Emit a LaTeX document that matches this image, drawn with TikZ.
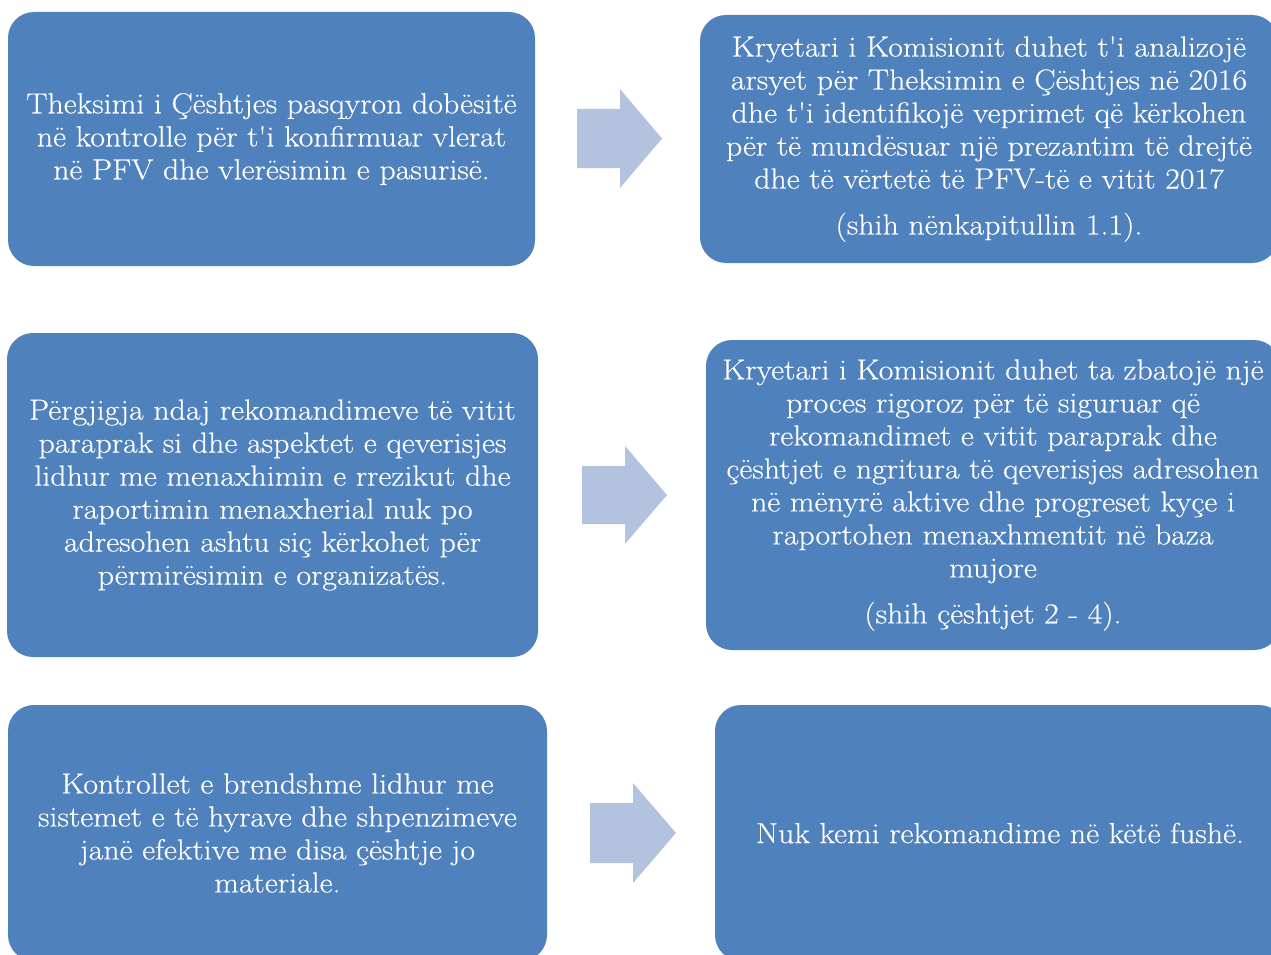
\documentclass[tikz,border=0pt]{standalone}
\usepackage{fontspec}
\setmainfont{Latin Modern Roman}[FakeStretch=1.1, FakeBold=0.4, Ligatures=TeXOff]
\definecolor{boxblue}{HTML}{4F81BD}
\definecolor{arrowblue}{HTML}{B3C3DF}
\tikzset{
  infobox/.style={fill=boxblue, draw=none, rounded corners=26pt, text=white,
    align=center, inner sep=0pt, font=\fontsize{29}{33}\selectfont},
  blockarrow/.style={fill=arrowblue, draw=none}
}
\begin{document}
\begin{tikzpicture}[x=1pt,y=-1pt]
\useasboundingbox (0,0) rectangle (1271,955);
\begin{scope}
\clip (0,0) rectangle (1271,955);
% left boxes
\node[infobox, minimum width=527pt, minimum height=254pt] (b1) at (271.5,139)
  {Theksimi i Çështjes pasqyron dobësitë\\në kontrolle për t'i konfirmuar vlerat\\në PFV dhe vlerësimin e pasurisë.};
\node[infobox, minimum width=531pt, minimum height=324pt] (b3) at (272.5,495)
  {Përgjigja ndaj rekomandimeve të vitit\\paraprak si dhe aspektet e qeverisjes\\lidhur me menaxhimin e rrezikut dhe\\raportimin menaxherial nuk po\\adresohen ashtu siç kërkohet për\\përmirësimin e organizatës.};
\node[infobox, minimum width=539pt, minimum height=256pt] (b5) at (277.5,833)
  {Kontrollet e brendshme lidhur me\\sistemet e të hyrave dhe shpenzimeve\\janë efektive me disa çështje jo\\materiale.};
% right boxes
\node[infobox, minimum width=578pt, minimum height=248pt] (b2) at (989,139)
  {Kryetari i Komisionit duhet t'i analizojë\\arsyet për Theksimin e Çështjes në 2016\\dhe t'i identifikojë veprimet që kërkohen\\për të mundësuar një prezantim të drejtë\\dhe të vërtetë të PFV-të e vitit 2017\\[13pt](shih nënkapitullin 1.1).};
\node[infobox, minimum width=574pt, minimum height=310pt] (b4) at (993,495)
  {Kryetari i Komisionit duhet ta zbatojë një\\proces rigoroz për të siguruar që\\rekomandimet e vitit paraprak dhe\\çështjet e ngritura të qeverisjes adresohen\\në mënyrë aktive dhe progreset kyçe i\\raportohen menaxhmentit në baza\\mujore\\[13pt](shih çështjet 2 - 4).};
\node[infobox, minimum width=570pt, minimum height=256pt] (b6) at (1000,833)
  {Nuk kemi rekomandime në këtë fushë.};
\end{scope}
% block arrows
\fill[blockarrow] (577,109) -- (620,109) -- (620,89) -- (662,138.5) -- (620,188) -- (620,168) -- (577,168) -- cycle;
\fill[blockarrow] (582,466) -- (625,466) -- (625,446) -- (667,495) -- (625,544) -- (625,524) -- (582,524) -- cycle;
\fill[blockarrow] (590,803) -- (633,803) -- (633,783) -- (676,833) -- (633,883) -- (633,863) -- (590,863) -- cycle;
\end{tikzpicture}
\end{document}
